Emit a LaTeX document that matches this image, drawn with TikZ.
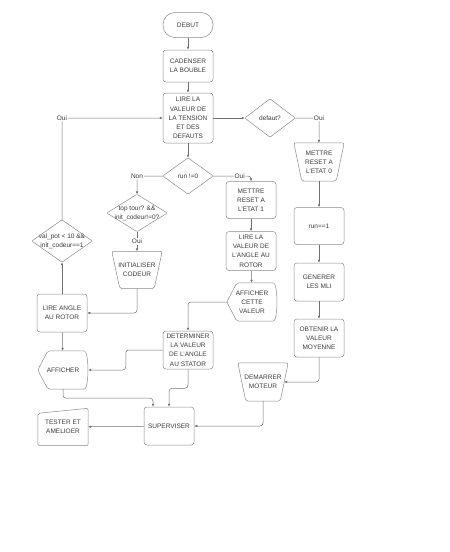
\documentclass[tikz,border=0pt]{standalone}
\usepackage{fontspec}
\setmainfont{Liberation Sans}
\usepackage{xcolor}
\usetikzlibrary{positioning,arrows.meta,calc}
\definecolor{boxline}{HTML}{8A8A8A}
\definecolor{txt}{HTML}{3A3A3A}
\definecolor{wire}{HTML}{707070}
\tikzset{
  base/.style={inner sep=0pt, minimum width=50, align=center, text=txt, font=\fontsize{6.5}{9.2}\selectfont},
  proc/.style={base, draw=boxline, rounded corners=3pt, line width=0.5pt},
  term/.style={proc, rounded corners=12pt, minimum height=25},
  free/.style={base},
  outline/.style={draw=boxline, line width=0.5pt, rounded corners=2pt},
  flow/.style={wire, line width=0.5pt, rounded corners=3pt, -{Latex[length=3pt,width=2.6pt]}},
  lbl/.style={fill=white, inner sep=1pt, text=txt, font=\fontsize{6.5}{8}\selectfont},
}

\begin{document}
\begin{tikzpicture}[x=1pt, y=-1pt]
\useasboundingbox (0,0) rectangle (450,552);
% main column
\node[term] (debut) at (188,25) {DEBUT};
\node[proc, minimum height=32] (cadenser) at (188,66) {CADENSER\\LA BOUBLE};
\node[proc, minimum height=50] (tension) at (188,118) {LIRE LA\\VALEUR DE\\LA TENSION\\ET DES\\DEFAUTS};
\node[free, minimum height=36] (run) at (188,176) {run !=0};
\node[proc, minimum height=38] (stator) at (188,350) {DETERMINER\\LA VALEUR\\DE L'ANGLE\\AU STATOR};
\node[proc, minimum height=38] (superviser) at (169,426) {SUPERVISER};
% fault branch
\node[free, minimum height=38] (defaut) at (270,118) {defaut?};
\node[free, minimum height=38] (reset0) at (319,162) {METTRE\\RESET A\\L'ETAT 0};
\node[proc, minimum height=37] (run1) at (319,226) {run==1};
\node[proc, minimum height=38] (mli) at (319,282) {GENERER\\LES MLI};
\node[proc, minimum height=38] (moyenne) at (319,338) {OBTENIR LA\\VALEUR\\MOYENNE};
\node[free, minimum height=38] (demarrer) at (263,382) {DEMARRER\\MOTEUR};
% run branch
\node[proc, minimum height=37] (reset1) at (251,200) {METTRE\\RESET A\\L'ETAT 1};
\node[proc, minimum height=39] (rotor) at (251,251) {LIRE LA\\VALEUR DE\\L'ANGLE AU\\ROTOR};
\node[free, minimum height=38] (cette) at (252,302) {AFFICHER\\CETTE\\VALEUR};
% encoder branch
\node[free, minimum width=60, minimum height=37] (toptour) at (137,213) {top tour? \&\&\\init\_codeur!=0?};
\node[free, minimum height=37] (init) at (137,270) {INITIALISER\\CODEUR};
\node[proc, minimum height=38] (angle) at (62,313) {LIRE ANGLE\\AU ROTOR};
\node[free, minimum width=60, minimum height=42] (valpot) at (62,241) {val\_pot < 10 \&\&\\init\_codeur==1};
\node[free, minimum height=38] (afficher) at (63,370) {AFFICHER};
\node[free, minimum height=37] (tester) at (63,427) {TESTER ET\\AMELIOER};
% outlines of the special shapes
\foreach \n in {defaut,run,toptour,valpot}
  \draw[outline, rounded corners=1pt] (\n.north) -- (\n.east) -- (\n.south) -- (\n.west) -- cycle;
\foreach \n in {reset0,init,demarrer}
  \draw[outline] (\n.north west) -- (\n.north east) -- ([xshift=-8pt]\n.south east) -- ([xshift=8pt]\n.south west) -- cycle;
\foreach \n in {afficher,cette}
  \draw[outline] (\n.west) -- ([xshift=10pt]\n.north west) -- ([xshift=-6pt]\n.north east)
    .. controls ([xshift=1pt]\n.north east) and ([xshift=1pt]\n.south east) .. ([xshift=-6pt]\n.south east)
    -- ([xshift=10pt]\n.south west) -- cycle;
\draw[outline] (tester.south west) -- ([yshift=-5pt]tester.north west) -- (tester.north east) -- (tester.south east) -- cycle;
% connectors
\draw[flow] (debut) -- (cadenser);
\draw[flow] (cadenser) -- (tension);
\draw[flow] (tension) -- (defaut);
\draw[flow] (defaut.east) -| node[lbl, pos=0.5] {Oui} (reset0.north);
\draw[flow] (reset0) -- (run1);
\draw[flow] (run1) -- (mli);
\draw[flow] (mli) -- (moyenne);
\draw[flow] (moyenne.south) |- ([xshift=-4pt]demarrer.east);
\draw[flow] (demarrer.south) |- (superviser.east);
\draw[flow] (tension) -- (run);
\draw[flow] (run.west) -| node[lbl, pos=0.5] {Non} (toptour.north);
\draw[flow] (run.east) -| node[lbl, pos=0.35] {Oui} (reset1.north);
\draw[flow] (toptour) -- node[lbl] {Oui} (init);
\draw[flow] (init.south) |- (angle.east);
\draw[flow] (angle) -- (valpot);
\draw[flow] (valpot.north) |- node[lbl, pos=0.5] {Oui} (tension.west);
\draw[flow] (angle) -- (afficher);
\draw[flow] (reset1) -- (rotor);
\draw[flow] (rotor) -- (cette);
\draw[flow] (cette.west) -| (stator.north);
\draw[flow] (stator.west) -- ++(-37,0) |- (afficher.east);
\draw[flow] (stator.south) -- ++(0,19) -| (superviser.north);
\draw[flow] (afficher.south) -- ++(0,9) -| ([xshift=-16pt]superviser.north);
\draw[flow] (superviser) -- (tester);
\end{tikzpicture}
\end{document}
